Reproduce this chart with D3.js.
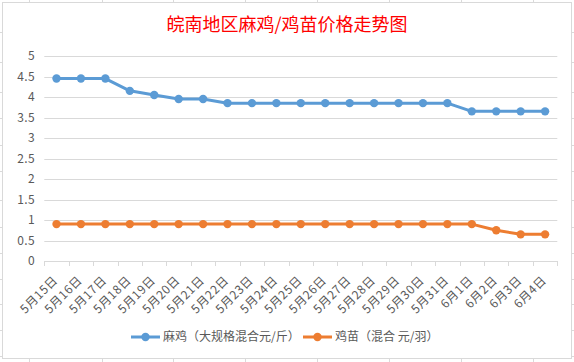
<!DOCTYPE html>
<html><head><meta charset="utf-8">
<script src="https://cdn.jsdelivr.net/npm/d3@7"></script>
<style>
html,body{margin:0;padding:0;background:#fff;}
svg{display:block;font-family:"Noto Sans CJK SC","Noto Sans",sans-serif;}
</style></head>
<body>
<svg id="c" width="574" height="362"></svg>
<script>
const categories = ["5月15日","5月16日","5月17日","5月18日","5月19日","5月20日","5月21日","5月22日","5月23日","5月24日","5月25日","5月26日","5月27日","5月28日","5月29日","5月30日","5月31日","6月1日","6月2日","6月3日","6月4日"];
const maji = [4.45,4.45,4.45,4.15,4.05,3.95,3.95,3.85,3.85,3.85,3.85,3.85,3.85,3.85,3.85,3.85,3.85,3.65,3.65,3.65,3.65];
const jimiao = [0.9,0.9,0.9,0.9,0.9,0.9,0.9,0.9,0.9,0.9,0.9,0.9,0.9,0.9,0.9,0.9,0.9,0.9,0.75,0.65,0.65];
const seriesNames = ["麻鸡（大规格混合元/斤）","鸡苗（混合 元/羽）"];
const yTicks = [0,0.5,1,1.5,2,2.5,3,3.5,4,4.5,5];
const yTickLabels = ["0","0.5","1","1.5","2","2.5","3","3.5","4","4.5","5"];
const title = "皖南地区麻鸡/鸡苗价格走势图";
const colors = ["#5B9BD5","#ED7D31"];

const svg = d3.select("#c");
// spreadsheet cell grid behind the chart
const colLines = [29,102,173,245,317,389,461,533];
const rowLines = [32,62,92,118,145,171,200,227,253,279,304,330,356];
svg.append("g").selectAll("line.cv").data(colLines).join("line")
  .attr("x1",d=>d+0.5).attr("x2",d=>d+0.5).attr("y1",0).attr("y2",362)
  .attr("stroke","#DADADA");
svg.append("g").selectAll("line.rh").data(rowLines).join("line")
  .attr("y1",d=>d+0.5).attr("y2",d=>d+0.5).attr("x1",0).attr("x2",574)
  .attr("stroke","#DADADA");
svg.append("rect").attr("x",2.5).attr("y",2.5).attr("width",569).attr("height",356)
  .attr("fill","#fff").attr("stroke","#D9D9D9");

svg.append("text").attr("x",287).attr("y",31).attr("text-anchor","middle")
  .attr("fill","#FF0000").attr("font-size",18).text(title);

const x = d3.scaleBand().domain(categories).range([44.3,557.3]).padding(0);
const y = d3.scaleLinear().domain([0,5]).range([261,56]);

// gridlines
svg.append("g").selectAll("line").data(yTicks).join("line")
  .attr("x1",44.3).attr("x2",557.3)
  .attr("y1",d=>Math.round(y(d))+0.5).attr("y2",d=>Math.round(y(d))+0.5)
  .attr("stroke","#D9D9D9");
// y labels
svg.append("g").selectAll("text").data(yTicks).join("text")
  .attr("x",35).attr("y",d=>y(d)).attr("dy","0.35em").attr("text-anchor","end")
  .attr("fill","#595959").attr("font-size",12).attr("letter-spacing",0.4).text((d,i)=>yTickLabels[i]);
// x ticks
const bounds = categories.map(c=>x(c)).concat([x.range()[1]]);
svg.append("g").selectAll("line").data(bounds).join("line")
  .attr("x1",d=>Math.round(d)+0.5).attr("x2",d=>Math.round(d)+0.5)
  .attr("y1",Math.round(y(0))).attr("y2",Math.round(y(0))+5)
  .attr("stroke","#D9D9D9");
// x labels
svg.append("g").selectAll("text").data(categories).join("text")
  .attr("transform",d=>`translate(${x(d)+x.bandwidth()/2+2},${281}) rotate(-45)`)
  .attr("text-anchor","end").attr("fill","#595959").attr("font-size",12)
  .attr("letter-spacing",0.6).text(d=>d);

// series
const line = d3.line().x((d,i)=>x(categories[i])+x.bandwidth()/2).y(d=>y(d));
[maji,jimiao].forEach((s,k)=>{
  svg.append("path").datum(s).attr("d",line).attr("fill","none")
    .attr("stroke",colors[k]).attr("stroke-width",3).attr("stroke-linejoin","round").attr("stroke-linecap","round");
  svg.append("g").selectAll("circle").data(s).join("circle")
    .attr("cx",(d,i)=>x(categories[i])+x.bandwidth()/2).attr("cy",d=>y(d)).attr("r",4.2)
    .attr("fill",colors[k]);
});

// legend
const legX = [131,303];
seriesNames.forEach((n,k)=>{
  const g = svg.append("g").attr("transform",`translate(${legX[k]},337)`);
  g.append("line").attr("x1",0).attr("x2",29).attr("y1",0).attr("y2",0)
    .attr("stroke",colors[k]).attr("stroke-width",3);
  g.append("circle").attr("cx",14.5).attr("cy",0).attr("r",4.2).attr("fill",colors[k]);
  g.append("text").attr("x",32).attr("y",0).attr("dy","0.35em").attr("fill","#595959")
    .attr("font-size",12).text(n);
});
</script>
</body></html>
